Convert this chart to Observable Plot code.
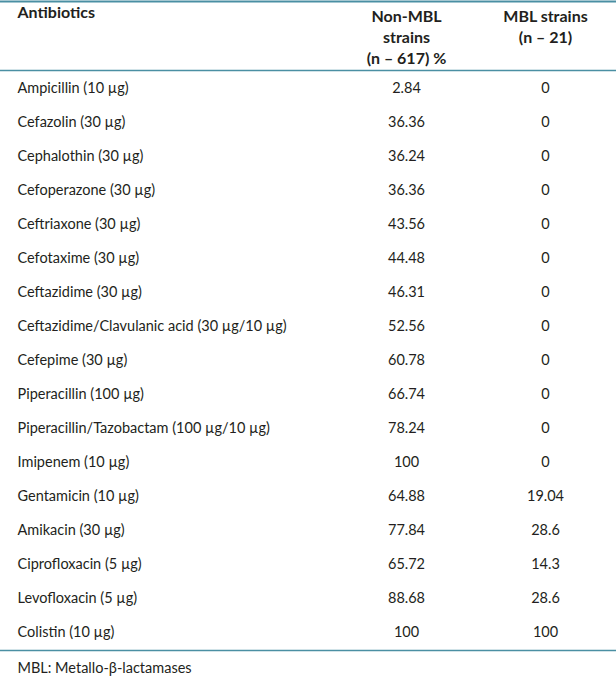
<!DOCTYPE html>
<html>
<head>
<meta charset="utf-8">
<script src="https://cdn.jsdelivr.net/npm/d3@7"></script>
<script src="https://cdn.jsdelivr.net/npm/@observablehq/plot@0.6"></script>
<style>
  html, body { margin: 0; padding: 0; background: #fff; overflow: hidden; }
  #chart svg { display: block; }
</style>
</head>
<body>
<div id="chart"></div>
<script>
// ---- Data ----
const antibiotics = [
  "Ampicillin (10 µg)",
  "Cefazolin (30 µg)",
  "Cephalothin (30 µg)",
  "Cefoperazone (30 µg)",
  "Ceftriaxone (30 µg)",
  "Cefotaxime (30 µg)",
  "Ceftazidime (30 µg)",
  "Ceftazidime/Clavulanic acid (30 µg/10 µg)",
  "Cefepime (30 µg)",
  "Piperacillin (100 µg)",
  "Piperacillin/Tazobactam (100 µg/10 µg)",
  "Imipenem (10 µg)",
  "Gentamicin (10 µg)",
  "Amikacin (30 µg)",
  "Ciprofloxacin (5 µg)",
  "Levofloxacin (5 µg)",
  "Colistin (10 µg)"
];
const nonMBL = ["2.84","36.36","36.24","36.36","43.56","44.48","46.31","52.56","60.78","66.74","78.24","100","64.88","77.84","65.72","88.68","100"];
const mbl = ["0","0","0","0","0","0","0","0","0","0","0","0","19.04","28.6","14.3","28.6","100"];
const headers = ["Antibiotics", "Non-MBL\nstrains\n(n – 617) %", "MBL strains\n(n – 21)"];
const footnote = "MBL: Metallo-β-lactamases";

// ---- Layout / style ----
const W = 616, H = 680;
const colX = [17, 406, 545];
const ruleColor = "#4a8fa3";
const ink = "#231f20";
const font = "Lato, 'Open Sans', sans-serif";
const fs = 14.5;
const hfs = 16;

const rows = antibiotics.map((a, i) => ({a, n: nonMBL[i], m: mbl[i]}));

const chart = Plot.plot({
  width: W,
  height: H,
  marginTop: 1,
  marginBottom: 0,
  marginLeft: 0,
  marginRight: 0,
  style: {fontFamily: font, fontSize: fs + "px", color: ink, background: "#fff"},
  x: {type: "identity"},
  y: {type: "point", domain: antibiotics, range: [85, 635], padding: 0, axis: null},
  marks: [
    Plot.frame({anchor: "top", stroke: ruleColor, strokeWidth: 2}),
    Plot.ruleY([antibiotics[0]], {dy: -18, stroke: ruleColor, strokeWidth: 1.6}),
    Plot.ruleY([antibiotics[antibiotics.length - 1]], {dy: 18, stroke: ruleColor, strokeWidth: 1.6}),
    // header
    Plot.text([headers[0]], {x: () => colX[0], frameAnchor: "top", dy: 5, text: d => d, textAnchor: "start", fontWeight: "bold", fill: ink, lineAnchor: "top", fontSize: hfs}),
    Plot.text([headers[1]], {x: () => colX[1], frameAnchor: "top", dy: 5, text: d => d, textAnchor: "middle", fontWeight: "bold", fill: ink, lineAnchor: "top", lineHeight: 1.33, fontSize: hfs}),
    Plot.text([headers[2]], {x: () => colX[2], frameAnchor: "top", dy: 5, text: d => d, textAnchor: "middle", fontWeight: "bold", fill: ink, lineAnchor: "top", lineHeight: 1.33, fontSize: hfs}),
    // body
    Plot.text(rows, {x: () => colX[0], y: "a", text: "a", textAnchor: "start", fill: ink, fontSize: fs}),
    Plot.text(rows, {x: () => colX[1], y: "a", text: "n", textAnchor: "middle", fill: ink, fontSize: fs}),
    Plot.text(rows, {x: () => colX[2], y: "a", text: "m", textAnchor: "middle", fill: ink, fontSize: fs}),
    // footnote
    Plot.text([footnote], {x: () => colX[0], frameAnchor: "bottom", dy: -12, text: d => d, textAnchor: "start", lineAnchor: "middle", fill: ink, fontSize: fs})
  ]
});
document.getElementById("chart").appendChild(chart);
</script>
</body>
</html>
